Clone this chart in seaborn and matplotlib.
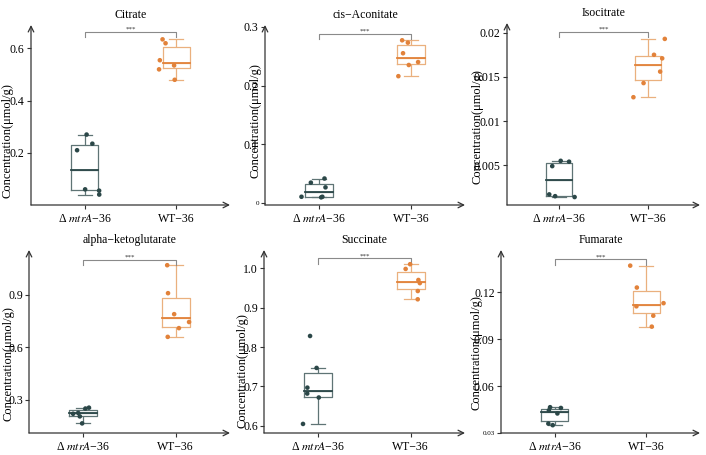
import numpy as np
import pandas as pd
import matplotlib
matplotlib.use("Agg")
import matplotlib.pyplot as plt
import seaborn as sns

groups = ["\u0394 $\\mathit{mtrA}$\u221236", "WT\u221236"]
titles = ["Citrate", "cis\u2212Aconitate", "Isocitrate",
          "alpha\u2212ketoglutarate", "Succinate", "Fumarate"]

citrate_mtra = [0.270, 0.235, 0.210, 0.060, 0.055, 0.040]
citrate_wt = [0.635, 0.620, 0.555, 0.535, 0.520, 0.480]
aconitate_mtra = [0.042, 0.035, 0.027, 0.011, 0.011, 0.010]
aconitate_wt = [0.277, 0.273, 0.255, 0.240, 0.235, 0.216]
isocitrate_mtra = [0.0055, 0.0054, 0.0049, 0.0017, 0.0015, 0.0014]
isocitrate_wt = [0.0193, 0.0175, 0.0171, 0.0156, 0.0143, 0.0127]
akg_mtra = [0.255, 0.250, 0.225, 0.220, 0.205, 0.165]
akg_wt = [1.070, 0.910, 0.790, 0.745, 0.710, 0.660]
succinate_mtra = [0.828, 0.747, 0.697, 0.682, 0.672, 0.605]
succinate_wt = [1.010, 0.998, 0.970, 0.962, 0.942, 0.921]
fumarate_mtra = [0.0465, 0.0460, 0.0445, 0.0425, 0.0360, 0.0350]
fumarate_wt = [0.137, 0.123, 0.113, 0.111, 0.105, 0.098]

series = [(citrate_mtra, citrate_wt), (aconitate_mtra, aconitate_wt),
          (isocitrate_mtra, isocitrate_wt), (akg_mtra, akg_wt),
          (succinate_mtra, succinate_wt), (fumarate_mtra, fumarate_wt)]

yticks = [[0.2, 0.4, 0.6], [0, 0.1, 0.2, 0.3], [0.005, 0.01, 0.015, 0.02],
          [0.3, 0.6, 0.9], [0.6, 0.7, 0.8, 0.9, 1.0], [0.03, 0.06, 0.09, 0.12]]
yticklabels = [["0.2", "0.4", "0.6"], ["0", "0.1", "0.2", "0.3"],
               ["0.005", "0.01", "0.015", "0.02"], ["0.3", "0.6", "0.9"],
               ["0.6", "0.7", "0.8", "0.9", "1.0"], ["0.03", "0.06", "0.09", "0.12"]]
small_ticks = [[], ["0"], [], [], [], ["0.03"]]
ylims = [(0.0, 0.69), (-0.003, 0.303), (0.0005, 0.0211),
         (0.11, 1.157), (0.582, 1.046), (0.03, 0.147)]
bracket_y = [0.665, 0.288, 0.0201, 1.10, 1.025, 0.141]
label_x = [-0.09, -0.015, -0.124, -0.07, -0.075, -0.095]
label_y = [0.36, 0.47, 0.43, 0.38, 0.34, 0.44]

# axes rectangles in pixels: left, top, right, bottom
W, H = 706, 455
rects = [(31, 25, 230, 205), (265, 25, 465, 205), (507, 23, 700, 205),
         (29, 250, 230, 433), (264, 250, 465, 433), (501, 250, 700, 433)]

palette = {groups[0]: "#2b4748", groups[1]: "#e2823a"}
box_edge = {groups[0]: "#5f7475", groups[1]: "#eab07e"}

plt.rcParams["font.family"] = "Liberation Serif"
plt.rcParams["mathtext.fontset"] = "stix"

fig = plt.figure(figsize=(W / 100, H / 100), dpi=100)
np.random.seed(3)

for i, (mtra, wt) in enumerate(series):
    l, t, r, b = rects[i]
    ax = fig.add_axes([l / W, 1 - b / H, (r - l) / W, (b - t) / H])
    df = pd.DataFrame({"group": [groups[0]] * len(mtra) + [groups[1]] * len(wt),
                       "value": list(mtra) + list(wt)})

    sns.boxplot(data=df, x="group", y="value", hue="group", order=groups,
                palette=box_edge, fill=False, width=0.3, linewidth=0.9,
                showfliers=False, legend=False, ax=ax)
    sns.stripplot(data=df, x="group", y="value", hue="group", order=groups,
                  palette=palette, jitter=0.2, size=3.3, legend=False, ax=ax)
    # darker median lines
    for g, x in zip(groups, [0, 1]):
        med = df.loc[df.group == g, "value"].median()
        ax.plot([x - 0.15, x + 0.15], [med, med], color=palette[g], lw=1.3, zorder=3)

    ax.set_xlim(-0.587, 1.587)
    ax.set_ylim(*ylims[i])
    ax.set_yticks(yticks[i])
    ax.set_yticklabels(yticklabels[i])
    for lab in ax.get_yticklabels():
        lab.set_fontsize(5 if lab.get_text() in small_ticks[i] else 8.5)
    ax.tick_params(axis="both", length=3, width=0.8, color="#333333", pad=1.5)
    ax.tick_params(axis="x", labelsize=8.5, pad=3)
    ax.set_xlabel("")
    ax.set_ylabel("Concentration(\u03bcmol/g)", fontsize=9)
    ax.yaxis.set_label_coords(label_x[i], label_y[i])
    ax.set_title(titles[i], fontsize=8.5, pad=5)

    for s in ax.spines.values():
        s.set_visible(False)
    ax.annotate("", xy=(0, 1.0), xytext=(0, 0), xycoords="axes fraction",
                arrowprops=dict(arrowstyle="->", color="#333333", lw=0.9,
                                shrinkA=0, shrinkB=0))
    ax.annotate("", xy=(1.0, 0), xytext=(0, 0), xycoords="axes fraction",
                arrowprops=dict(arrowstyle="->", color="#333333", lw=0.9,
                                shrinkA=0, shrinkB=0))

    # significance bracket
    by = bracket_y[i]
    d = (ylims[i][1] - ylims[i][0]) * 0.03
    ax.plot([0, 0, 1, 1], [by - d, by, by, by - d], color="#8a8a8a", lw=0.8, clip_on=False)
    ax.text(0.5, by, "***", ha="center", va="bottom", fontsize=5, color="#333333")

fig.savefig("out.png", dpi=100)
